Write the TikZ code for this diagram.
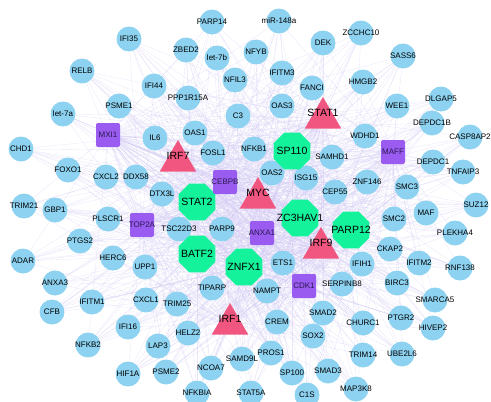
\documentclass[tikz,border=0pt]{standalone}
\usepackage{fontspec}
\setmainfont{Liberation Sans}
\usetikzlibrary{shapes.geometric,backgrounds}
\definecolor{NetBlue}{HTML}{8DD2F0}
\definecolor{NetGreen}{HTML}{14F39B}
\definecolor{NetPink}{HTML}{F0567F}
\definecolor{NetPurple}{HTML}{9A5CF0}
\definecolor{NetInk}{HTML}{2A1850}
\definecolor{NetEdge}{HTML}{CFC6F2}

\def\genelist{PARP14/212/22, miR-148a/279/21, IFI35/129/39, ZBED2/186/50,
  let-7b/217/58, NFYB/256/52, DEK/323/43, ZCCHC10/361/33, SASS6/403/56,
  RELB/82/71, IFITM3/282/73, NFIL3/235/80, HMGB2/363/82, IFI44/154/86,
  FANCI/312/88, PPP1R15A/188/98, DLGAP5/441/99, PSME1/119/106, OAS3/282/106,
  WEE1/397/106, let-7a/63/114, C3/238/116, DEPDC1B/432/123, OAS1/195/133,
  WDHD1/365/136, CASP8AP2/470/137, IL6/155/138, CHD1/21/149, NFKB1/254/149,
  FOSL1/213/153, SAMHD1/332/157, DEPDC1/433/162, FOXO1/68/170,
  TNFAIP3/463/172, OAS2/272/173, CXCL2/106/177, DDX58/136/177, ISG15/306/178,
  ZNF146/367/182, SMC3/407/187, CEP55/335/192, DTX3L/162/194, TRIM21/24/206,
  SUZ12/476/205, GBP1/55/210, MAF/426/213, PLSCR1/108/219, SMC2/394/219,
  TSC22D3/179/229, PARP9/222/229, PLEKHA4/455/233, PTGS2/80/241,
  CKAP2/390/249, HERC6/113/258, ADAR/23/261, ETS1/283/263, IFIH1/362/264,
  IFITM2/419/263, UPP1/145/267, RNF138/460/268, ANXA3/55/283,
  SERPINB8/342/284, BIRC3/397/283, TIPARP/212/288, NAMPT/267/291,
  CXCL1/146/300, SMARCA5/435/300, IFITM1/92/302, TRIM25/177/304, CFB/52/312,
  SMAD2/323/313, PTGR2/401/318, CREM/277/322, CHURC1/363/323, IFI16/128/327,
  HIVEP2/433/328, HELZ2/188/333, SOX2/313/336, NFKB2/88/345, LAP3/158/346,
  PROS1/271/353, TRIM14/363/355, UBE2L6/402/354, SAMD9L/242/359,
  NCOA7/211/368, SMAD3/328/371, PSME2/166/372, SP100/292/373, HIF1A/128/374,
  MAP3K8/356/389, STAT5A/251/393, NFKBIA/197/393, C1S/307/395}
\def\hublist{SP110, STAT2, ZC3HAV1, PARP12, BATF2, ZNFX1, STAT1, IRF7, MYC,
  IRF9, IRF1, MXI1, CEBPB, TOP2A, ANXA1, MAFF, CDK1}

\begin{document}
\begin{tikzpicture}[x=1pt, y=-1pt,
    gene/.style={circle, fill=NetBlue, minimum size=25pt, inner sep=0pt,
      font=\fontsize{8}{9}\selectfont},
    hub/.style={regular polygon, regular polygon sides=8, fill=NetGreen,
      minimum size=40pt, inner sep=0pt, font=\fontsize{10.5}{12}\selectfont},
    tf/.style={regular polygon, regular polygon sides=3, fill=NetPink,
      minimum size=42pt, inner sep=0pt},
    tftext/.style={font=\fontsize{10.5}{12}\selectfont},
    reg/.style={rounded corners=2pt, fill=NetPurple, minimum size=24pt,
      inner sep=0pt, text=NetInk, font=\fontsize{8}{9}\selectfont},
    link/.style={draw=NetEdge, line width=0.35pt, opacity=0.42}
  ]
  \useasboundingbox (0,0) rectangle (491,402);
  \foreach \name/\x/\y in \genelist
    \node[gene] (\name) at (\x,\y) {\makebox[0pt]{\name}};
  \foreach \name/\x/\y in {SP110/292/151, STAT2/197/202, ZC3HAV1/300/218,
      PARP12/351/230, BATF2/197/254, ZNFX1/244/267}
    \node[hub] (\name) at (\x,\y) {\makebox[0pt]{\name}};
  \foreach \name/\x/\y in {STAT1/323/113, IRF7/178/156, MYC/258/193,
      IRF9/321/243, IRF1/230/319}{
    \node[tf] (\name) at (\x,\y+5) {};
    \node[tftext] (\name-t) at (\x,\y) {\name};
  }
  \foreach \name/\x/\y in {MXI1/108/135, CEBPB/225/182, TOP2A/142/225,
      ANXA1/262/233, MAFF/393/152, CDK1/304/286}
    \node[reg] (\name) at (\x,\y) {\makebox[0pt]{\name}};
  \begin{scope}[on background layer]
    \foreach \h [count=\i] in \hublist{
      \foreach \g/\gx/\gy [count=\j] in \genelist{
        \pgfmathtruncatemacro\pick{mod(\i*5+\j*3,7)}
        \ifnum\pick<4 \draw[link] (\h) -- (\g);\fi
      }
      \foreach \k [count=\j] in \hublist{
        \ifnum\j>\i \draw[link] (\h) -- (\k);\fi
      }
    }
  \end{scope}
\end{tikzpicture}
\end{document}
